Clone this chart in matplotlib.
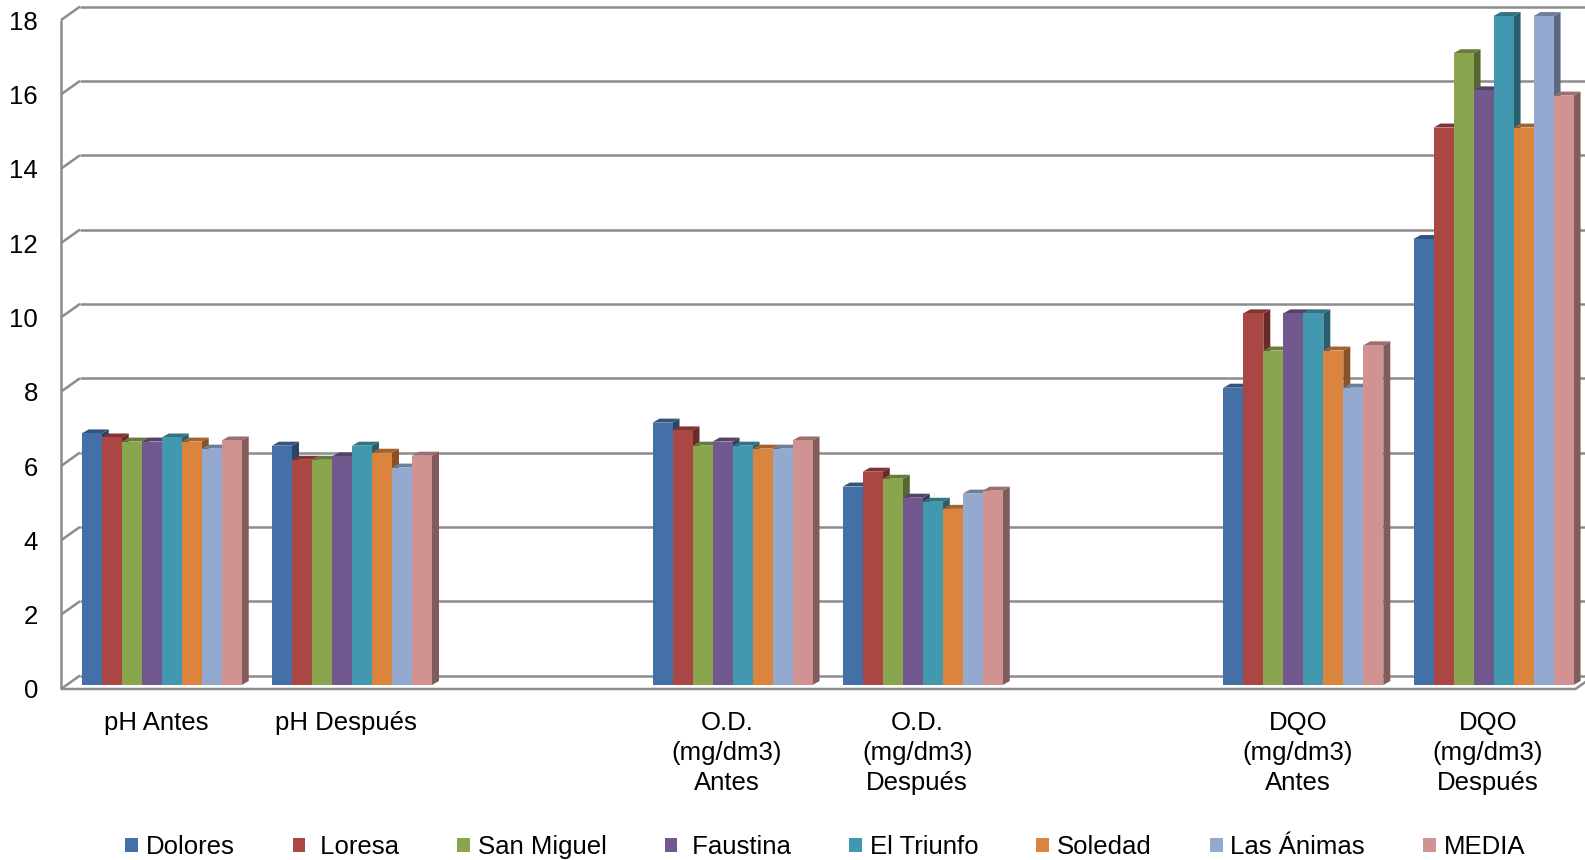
import numpy as np
import matplotlib
matplotlib.use("Agg")
import matplotlib.pyplot as plt
from matplotlib.patches import Polygon
from matplotlib.transforms import ScaledTranslation

plt.rcParams["font.family"] = ["Liberation Sans", "DejaVu Sans"]

# slots 2 and 5 are left empty as spacers between parameter groups
slots = [0, 1, 3, 4, 6, 7]
categories = ["pH Antes", "pH Después",
              "O.D.\n(mg/dm3)\nAntes", "O.D.\n(mg/dm3)\nDespués",
              "DQO\n(mg/dm3)\nAntes", "DQO\n(mg/dm3)\nDespués"]

dolores = [6.77, 6.44, 7.06, 5.34, 8, 12]
loresa = [6.66, 6.06, 6.85, 5.74, 10, 15]
san_miguel = [6.55, 6.06, 6.44, 5.55, 9, 17]
faustina = [6.55, 6.15, 6.55, 5.04, 10, 16]
el_triunfo = [6.66, 6.44, 6.44, 4.93, 10, 18]
soledad = [6.55, 6.25, 6.36, 4.74, 9, 15]
las_animas = [6.36, 5.85, 6.36, 5.15, 8, 18]
media = [6.58, 6.17, 6.58, 5.23, 9.14, 15.86]

series = [
    ("Dolores", dolores, "#4470A8"),
    (" Loresa", loresa, "#AA4643"),
    ("San Miguel", san_miguel, "#89A54E"),
    (" Faustina", faustina, "#71588F"),
    ("El Triunfo", el_triunfo, "#4198AF"),
    ("Soledad", soledad, "#DB843D"),
    ("Las Ánimas", las_animas, "#93A9CF"),
    ("MEDIA", media, "#D19392"),
]

yticks = list(range(0, 19, 2))

W, H, DPI = 1585, 860, 100
fig = plt.figure(figsize=(W / DPI, H / DPI), dpi=DPI)
ax = fig.add_axes([61 / W, (H - 689) / H, (W - 61) / W, 689 / H])
ax.set_xlim(-0.5, 7.51)
ax.set_ylim(0, 18.54)
for s in ax.spines.values():
    s.set_visible(False)

# pixel scale of the data axes, used for the fake 3-D depth offsets
p0 = ax.transData.transform((0, 0))
p1 = ax.transData.transform((1, 1))
sx, sy = p1 - p0

def px(dx, dy):
    return dx / sx, dy / sy

grid_kw = dict(color="#8c8c8c", lw=1.8, clip_on=False, zorder=1,
               solid_capstyle="butt")

# back wall gridlines and left wall diagonals
bx, by = px(19, 13.5)
for v in yticks:
    ax.plot([-0.5 + bx, 7.7], [v + by, v + by], **grid_kw)
    ax.plot([-0.5, -0.5 + bx], [v, v + by], **grid_kw)
ax.plot([-0.5, -0.5], [0, 18], **grid_kw)
# floor front edge
x_end = 7.46
ax.plot([-0.5, x_end, x_end + bx], [0, 0, by], **grid_kw)

# bars sit slightly behind the front plane
bar_tf = ax.transData + ScaledTranslation(5.6 / DPI, 4 / DPI, fig.dpi_scale_trans)
ddx, ddy = px(7, 4)
w = 20 / sx
n = len(series)


def shade(c, f):
    rgb = np.array(matplotlib.colors.to_rgb(c))
    return tuple(rgb * f)


handles = []
for j, (name, vals, col) in enumerate(series):
    xs = np.array(slots) + (j - (n - 1) / 2) * w
    z = 10 + 3 * j
    bars = ax.bar(xs, vals, width=w, color=col, label=name, linewidth=0, zorder=z + 2)
    for rect in bars:
        rect.set_transform(bar_tf)
    handles.append(bars)
    for x, v in zip(xs, vals):
        l, r = x - w / 2, x + w / 2
        ax.add_patch(Polygon([(r, 0), (r, v), (r + ddx, v + ddy), (r + ddx, ddy)],
                             closed=True, facecolor=shade(col, 0.62), lw=0,
                             transform=bar_tf, zorder=z))
        ax.add_patch(Polygon([(l, v), (r, v), (r + ddx, v + ddy), (l + ddx, v + ddy)],
                             closed=True, facecolor=shade(col, 0.75), lw=0,
                             transform=bar_tf, zorder=z + 1))

ax.set_yticks(yticks)
ax.set_yticklabels([str(v) for v in yticks], fontsize=18.5)
ax.set_xticks(slots)
ax.set_xticklabels(categories, fontsize=18.5, linespacing=1.34)
ax.tick_params(axis="y", length=0, pad=16.5)
ax.tick_params(axis="x", length=0, pad=15.5)

fig.legend(handles=handles, ncol=n, loc="center left",
           bbox_to_anchor=(125 / W, 1 - 847 / H), frameon=False,
           fontsize=18.5, handlelength=0.5, handleheight=0.5,
           handletextpad=0.3, columnspacing=2.26, borderaxespad=0, borderpad=0)

fig.savefig("out.png", dpi=DPI)
